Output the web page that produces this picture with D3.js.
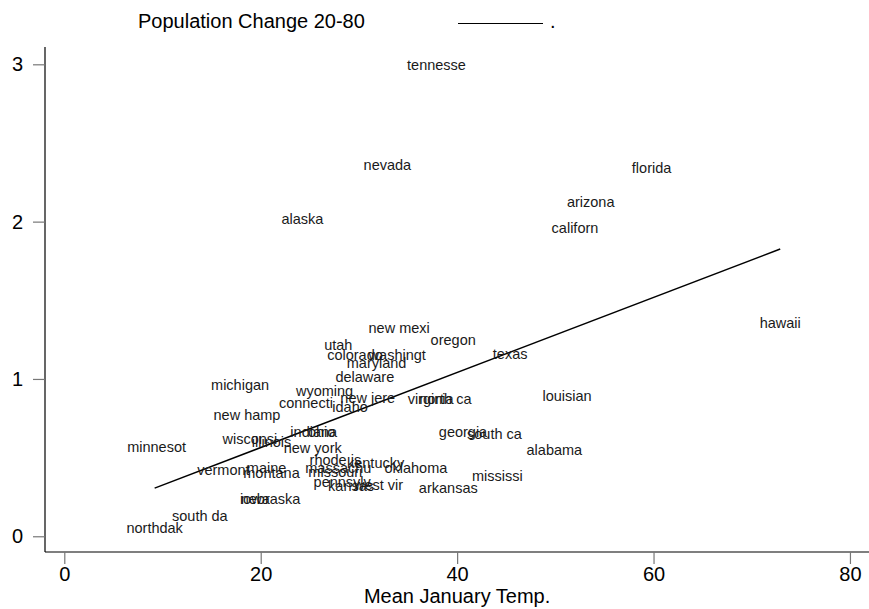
<!DOCTYPE html>
<html>
<head>
<meta charset="utf-8">
<script src="https://cdn.jsdelivr.net/npm/d3@7"></script>
<style>
  body { margin: 0; background: #fff; }
  text { font-family: Arial, "Liberation Sans", sans-serif; }
</style>
</head>
<body>
<div id="chart"></div>
<script>
// state labels (truncated as in the source data) with mean january temp and population change
var states = ["tennesse", "nevada", "florida", "arizona", "alaska", "californ", "hawaii",
  "louisian", "alabama", "texas", "new mexi", "oregon", "utah", "colorado", "washingt",
  "maryland", "delaware", "wyoming", "new jere", "connecti", "idaho", "virginia", "north ca",
  "michigan", "new hamp", "wisconsi", "illinois", "indiana", "ohio", "new york", "minnesot",
  "vermont", "maine", "montana", "missouri", "georgia", "south ca", "rhode is", "massachu",
  "kentucky", "oklahoma", "mississi", "pennsylv", "kansas", "west vir", "arkansas",
  "iowa", "nebraska", "south da", "northdak"];
var janTemp = [37.9, 32.9, 59.8, 53.6, 24.25, 52.0, 72.9,
  51.2, 49.9, 45.4, 34.1, 39.6, 27.9, 29.6, 33.9,
  31.8, 30.6, 26.5, 30.9, 24.6, 29.1, 37.3, 38.8,
  17.9, 18.6, 18.9, 21.1, 25.4, 26.2, 25.3, 9.4,
  16.2, 20.6, 21.1, 27.6, 40.6, 43.8, 27.6, 27.9,
  31.7, 35.8, 44.1, 28.3, 29.2, 32.0, 39.1,
  19.4, 21.0, 13.8, 9.2];
var popChange = [2.996, 2.36, 2.34, 2.127, 2.02, 1.963, 1.359,
  0.892, 0.549, 1.162, 1.324, 1.249, 1.219, 1.154, 1.154,
  1.10, 1.013, 0.924, 0.879, 0.847, 0.822, 0.873, 0.873,
  0.962, 0.771, 0.619, 0.600, 0.663, 0.663, 0.561, 0.568,
  0.421, 0.434, 0.403, 0.409, 0.663, 0.65, 0.485, 0.434,
  0.466, 0.434, 0.383, 0.345, 0.32, 0.326, 0.307,
  0.237, 0.237, 0.128, 0.051];

// fitted line endpoints
var fitX = [9.2, 72.9];
var fitY = [0.306, 1.826];

var xTicks = [0, 20, 40, 60, 80];
var yTicks = [0, 1, 2, 3];

var width = 869, height = 609;
var plotLeft = 45, plotRight = 869, plotTop = 47, plotBottom = 552;

var svg = d3.select("#chart").append("svg")
  .attr("width", width)
  .attr("height", height);

svg.append("rect").attr("width", width).attr("height", height).attr("fill", "#fff");

var x = d3.scaleLinear().domain([-1.965, 81.94]).range([plotLeft, plotRight]);
var y = d3.scaleLinear().domain([-0.1, 3.11]).range([plotBottom, plotTop]);

// y axis
var yAxis = svg.append("g")
  .attr("transform", "translate(" + plotLeft + ",0)")
  .call(d3.axisLeft(y).tickValues(yTicks).tickFormat(d3.format("d"))
    .tickSize(12).tickPadding(10).tickSizeOuter(0));
yAxis.select(".domain").attr("stroke", "#000").attr("stroke-width", 1.2)
  .attr("d", "M0," + plotTop + "V" + plotBottom);
yAxis.selectAll(".tick line").attr("stroke", "#777").attr("stroke-width", 1.2);
yAxis.selectAll(".tick text").style("font-size", "20px").attr("fill", "#000");

// x axis
var xAxis = svg.append("g")
  .attr("transform", "translate(0," + plotBottom + ")")
  .call(d3.axisBottom(x).tickValues(xTicks).tickSize(12).tickPadding(3).tickSizeOuter(0));
xAxis.select(".domain").attr("stroke", "#000").attr("stroke-width", 1.2)
  .attr("d", "M" + plotLeft + ",0H" + plotRight);
xAxis.selectAll(".tick line").attr("stroke", "#777").attr("stroke-width", 1.2);
xAxis.selectAll(".tick text").style("font-size", "20px").attr("fill", "#000");

svg.append("text")
  .attr("x", x(40))
  .attr("y", 603)
  .attr("text-anchor", "middle")
  .style("font-size", "20px")
  .text("Mean January Temp.");

// fitted line
var line = d3.line().x(function(d) { return x(d[0]); }).y(function(d) { return y(d[1]); });
svg.append("path")
  .datum(fitX.map(function(v, i) { return [v, fitY[i]]; }))
  .attr("d", line)
  .attr("fill", "none")
  .attr("stroke", "#000")
  .attr("stroke-width", 1.5);

// state labels, centred on the point
svg.append("g")
  .selectAll("text")
  .data(states)
  .enter()
  .append("text")
  .attr("x", function(d, i) { return x(janTemp[i]); })
  .attr("y", function(d, i) { return y(popChange[i]); })
  .attr("dy", "0.35em")
  .attr("text-anchor", "middle")
  .style("font-size", "14.5px")
  .attr("fill", "#1a1a1a")
  .text(function(d) { return d; });

// legend
var legend = svg.append("g");
legend.append("text")
  .attr("x", 138)
  .attr("y", 28)
  .style("font-size", "20px")
  .text("Population Change 20-80");
legend.append("line")
  .attr("x1", 458).attr("x2", 543)
  .attr("y1", 23.5).attr("y2", 23.5)
  .attr("stroke", "#000").attr("stroke-width", 1.2);
legend.append("text")
  .attr("x", 550)
  .attr("y", 28)
  .style("font-size", "20px")
  .text(".");
</script>
</body>
</html>
